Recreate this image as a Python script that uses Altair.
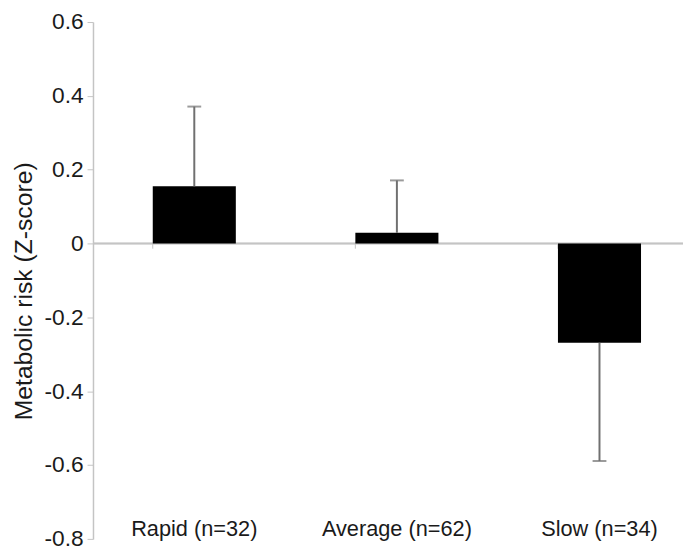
import altair as alt
import pandas as pd

categories = ["Rapid (n=32)", "Average (n=62)", "Slow (n=34)"]
means = [0.155, 0.029, -0.269]
errors = [0.216, 0.142, 0.320]
y_ticks = [-0.8, -0.6, -0.4, -0.2, 0.0, 0.2, 0.4, 0.6]

df = pd.DataFrame({"group": categories, "mean": means, "err": errors})
df["end"] = [m + e if m >= 0 else m - e for m, e in zip(means, errors)]
df["zero"] = 0.0
df["tick_end"] = -0.014

FONT = "Liberation Sans"
AX = "#c4c4c4"
ERR = "#707070"

x_scale = alt.Scale(domain=categories, range=[0, 615], paddingInner=0.59, paddingOuter=0.295)
y_scale = alt.Scale(domain=[-0.8, 0.6], nice=False, zero=False)

x_axis = alt.Axis(title=None, domain=False, ticks=False, labelAngle=0,
                  labelFontSize=22, labelColor="#1a1a1a", labelFont=FONT,
                  offset=-22, labelPadding=2)
y_axis = alt.Axis(values=y_ticks, grid=False,
                  labelExpr="datum.value == 0 ? '0' : (datum.value < 0 ? '-' : '') + format(abs(datum.value), '.1f')",
                  title="Metabolic risk (Z-score)",
                  domainColor=AX, domainWidth=1.5, tickColor=AX, tickSize=6, tickWidth=1,
                  labelFontSize=23, labelColor="#1a1a1a", labelFont=FONT, labelPadding=4,
                  titleFontSize=25, titleFontWeight="normal", titleFont=FONT, titleColor="#1a1a1a",
                  titleX=-70, titleY=272, titleBaseline="middle", titleAlign="center")

X = alt.X("group:N", scale=x_scale, axis=x_axis, sort=categories)

zero_line = alt.Chart(df).mark_rule(color=AX, strokeWidth=1.5).encode(
    y=alt.Y("zero:Q", scale=y_scale, axis=y_axis)
)

boundary_ticks = alt.Chart(df).mark_rule(color=AX, strokeWidth=1).encode(
    x=alt.X("group:N", scale=x_scale, axis=x_axis, sort=categories, bandPosition=0),
    y=alt.Y("zero:Q", scale=y_scale, axis=y_axis),
    y2="tick_end:Q",
)

bars = alt.Chart(df).mark_bar(color="black").encode(
    x=X,
    y=alt.Y("mean:Q", scale=y_scale, axis=y_axis),
    y2="zero:Q",
)

err_lines = alt.Chart(df).mark_rule(color=ERR, strokeWidth=2).encode(
    x=X,
    y=alt.Y("mean:Q", scale=y_scale, axis=y_axis),
    y2="end:Q",
)

caps = alt.Chart(df).mark_tick(color=ERR, orient="horizontal", size=14, thickness=2).encode(
    x=X,
    y=alt.Y("end:Q", scale=y_scale, axis=y_axis),
)

chart = alt.layer(zero_line, boundary_ticks, bars, err_lines, caps).properties(
    width=597, height=523,
    autosize=alt.AutoSizeParams(type="none"),
    padding={"left": 86, "top": 11, "right": 0, "bottom": 4},
    background="white",
).configure_view(stroke=None)

chart.save("out.html", embed_options={"renderer": "svg", "actions": False})
